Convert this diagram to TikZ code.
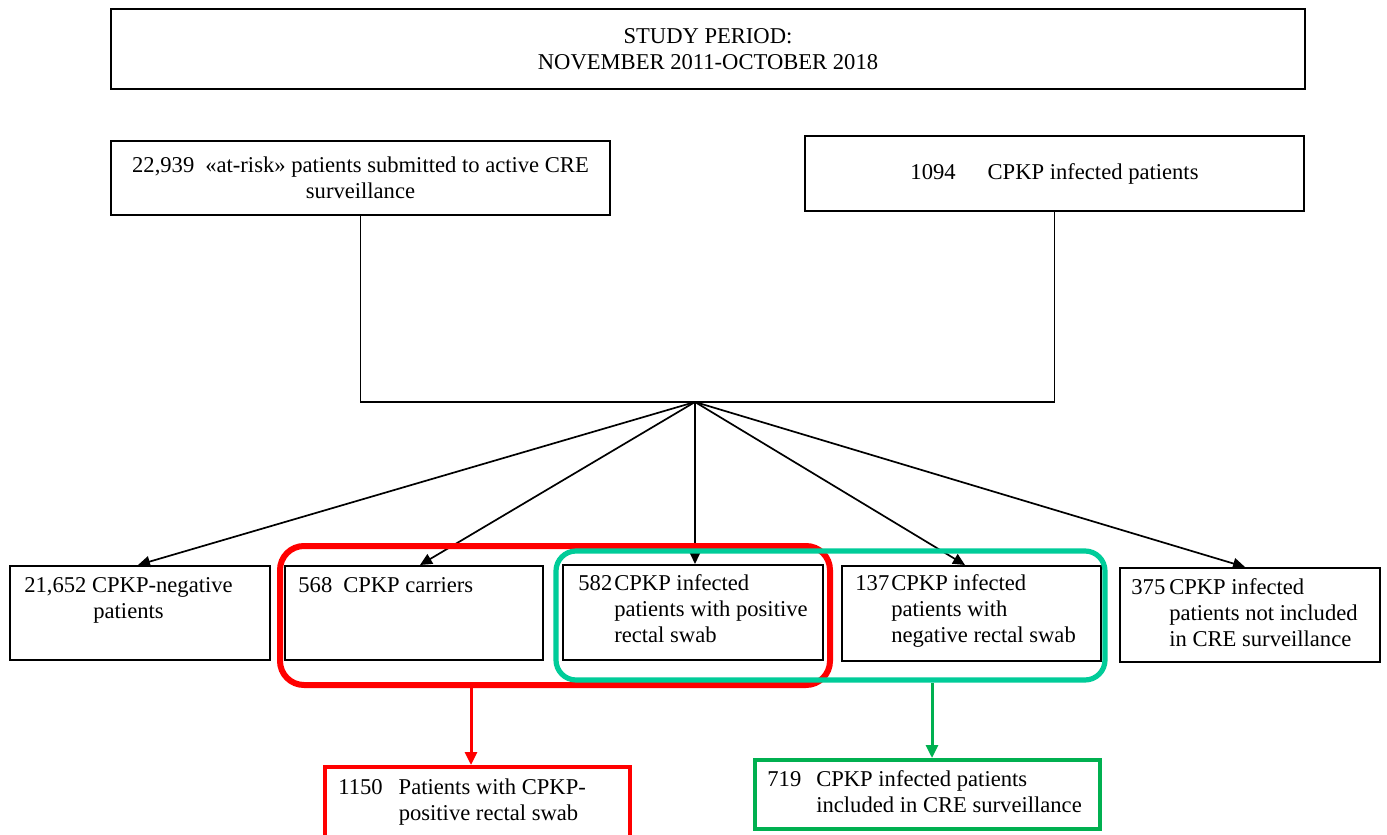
\documentclass[tikz,border=0pt]{standalone}
\usepackage{fontspec}
\setmainfont{Liberation Serif}
\usetikzlibrary{arrows.meta}
\definecolor{tealc}{RGB}{0,204,153}
\definecolor{greenc}{RGB}{0,176,80}
\begin{document}
\begin{tikzpicture}[x=0.5pt,y=-0.5pt,
  font=\fontsize{11.3}{13}\selectfont,
  box/.style={draw,line width=1pt,inner sep=0pt,align=center},
  txt/.style={inner sep=0pt,anchor=base west},
  ctxt/.style={inner sep=0pt,align=center},
  arr/.style={line width=0.85pt,-{Triangle[length=6pt,width=5.5pt]}},
  link/.style={line width=0.6pt},
  redgroup/.style={draw=red,line width=3pt,rounded corners=12pt,inner sep=0pt},
  tealgroup/.style={draw=tealc,line width=2.6pt,rounded corners=10pt,inner sep=0pt},
  redbox/.style={draw=red,line width=2pt,inner sep=0pt},
  greenbox/.style={draw=greenc,line width=2pt,inner sep=0pt}
]
\useasboundingbox (0,0) rectangle (1387,835);
\clip (0,0) rectangle (1387,835);
\fill[white] (0,0) rectangle (1387,835);

% top boxes
\node[box,minimum width=597pt,minimum height=40pt] (study) at (708,49)
  {STUDY PERIOD:\\NOVEMBER 2011-OCTOBER 2018};
\node[box,minimum width=249.5pt,minimum height=37pt] (A) at (360.5,178)
  {22,939\hspace{5.5pt}«at-risk» patients submitted to active CRE\\surveillance};
\node[box,minimum width=249.5pt,minimum height=37.5pt] (B) at (1054.5,173.5)
  {1094\hspace{16pt}CPKP infected patients};

% junction
\coordinate (J) at (695,402);
\draw[link] (A.south) -- (A.south |- J) -- (B.south |- J) -- (B.south);

% middle boxes
\node[box,minimum width=130pt,minimum height=47pt] (b1) at (140,613) {};
\node[box,minimum width=129pt,minimum height=47pt] (b2) at (414,613) {};
\node[box,minimum width=130pt,minimum height=47.5pt] (b3) at (693,612.5) {};
\node[box,minimum width=129.5pt,minimum height=47.5pt] (b4) at (971.5,613.5) {};
\node[box,minimum width=130pt,minimum height=47pt] (b5) at (1250,615) {};

\node[ctxt] (t1) at (128.5,600) {21,652 CPKP-negative\\patients};
\node[txt] (t2) at (298,592) {568\hspace{5.5pt}CPKP carriers};
\node[txt] (t3) at (578,590) {\begin{tabular}[t]{@{}l@{\hspace{1pt}}l@{}}582&CPKP infected\\&patients with positive\\&rectal swab\end{tabular}};
\node[txt] (t4) at (855,590) {\begin{tabular}[t]{@{}l@{\hspace{1pt}}l@{}}137&CPKP infected\\&patients with\\&negative rectal swab\end{tabular}};
\node[txt] (t5) at (1131,594) {\begin{tabular}[t]{@{}l@{\hspace{2pt}}l@{}}375&CPKP infected\\&patients not included\\&in CRE surveillance\end{tabular}};

% arrows from junction
\draw[arr] (J) -- ([xshift=-1pt]b1.north);
\draw[arr] (J) -- ([xshift=3pt]b2.north);
\draw[arr] (J) -- ([xshift=1pt]b3.north);
\draw[arr] (J) -- ([xshift=-3.25pt]b4.north);
\draw[arr] (J) -- ([xshift=-2.5pt]b5.north);

% groups
\node[redgroup,minimum width=275pt,minimum height=69.5pt] (redg) at (555,615.5) {};
\node[tealgroup,minimum width=274.5pt,minimum height=64.5pt] (tealg) at (830.5,615.5) {};

% bottom boxes
\node[redbox,minimum width=152.5pt,minimum height=41.5pt] (rbox) at (477.5,808.5) {};
\node[greenbox,minimum width=172.5pt,minimum height=34.5pt] (gbox) at (927.5,794.5) {};
\node[txt] (t6) at (338,794) {\begin{tabular}[t]{@{}l@{\hspace{8pt}}l@{}}1150&Patients with CPKP-\\&positive rectal swab\end{tabular}};
\node[txt] (t7) at (767,786) {\begin{tabular}[t]{@{}l@{\hspace{7.5pt}}l@{}}719&CPKP infected patients\\&included in CRE surveillance\end{tabular}};

\coordinate (ra) at ([xshift=-3.25pt]rbox.north);
\coordinate (ga) at ([xshift=2.25pt]gbox.north);
\draw[red,line width=1.5pt,-{Triangle[length=6.5pt,width=6pt]}] (ra |- redg.south) -- (ra);
\draw[greenc,line width=1.5pt,-{Triangle[length=6.5pt,width=6pt]}] (ga |- tealg.south) -- (ga);
\end{tikzpicture}
\end{document}
